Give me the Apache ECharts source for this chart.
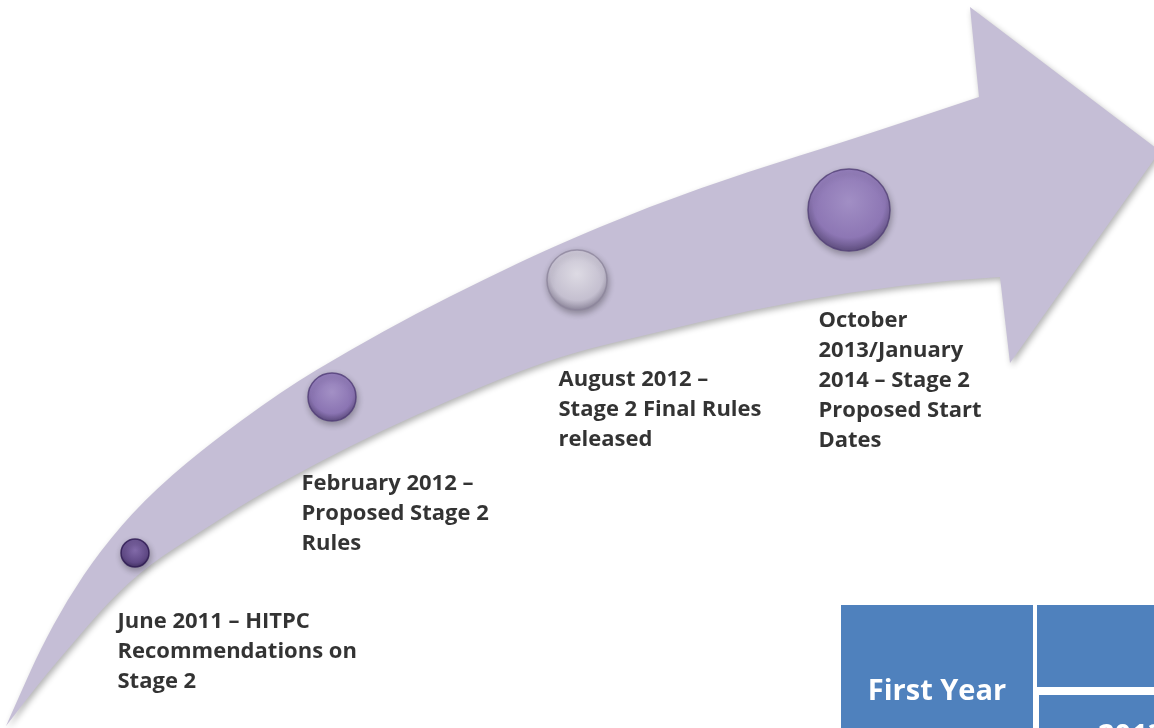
<!DOCTYPE html>
<html>
<head>
<meta charset="utf-8">
<script src="https://cdn.jsdelivr.net/npm/echarts@6/dist/echarts.min.js"></script>
<style>
  html, body { margin: 0; padding: 0; background: #fff; }
  #chart-container { width: 1154px; height: 728px; }
</style>
</head>
<body>
<div id="chart-container"></div>
<script>
// milestones along the arrow
const milestones = [
  'June 2011 – HITPC\nRecommendations on\nStage 2',
  'February 2012 –\nProposed Stage 2\nRules',
  'August 2012 –\nStage 2 Final Rules\nreleased',
  'October\n2013/January\n2014 – Stage 2\nProposed Start\nDates',
];
const markerX = [135, 332, 577, 849];
const markerY = [553, 397, 280, 210];
const markerSize = [28, 48, 60, 82];

// where each caption starts (top-left)
const labelX = [118, 302, 559, 819];
const labelY = [607, 469, 365, 306];

// arrow outline
const arrowUpper = [
  [6, 726], [22, 690], [40, 650], [67, 600], [100, 551], [143, 501], [200, 451],
  [283, 390], [350, 350], [417, 313], [483, 280], [550, 248], [650, 206],
  [750, 171], [850, 140], [979, 97],
];
const arrowHead = [[970, 7], [1160, 151], [1010, 363]];
const arrowLower = [
  [1000, 277], [950, 280], [850, 292], [750, 310], [650, 334], [575, 352],
  [517, 372], [450, 400], [383, 430], [317, 463], [250, 500], [200, 532],
  [150, 564], [110, 600], [67, 650], [40, 682], [6, 726],
];

const sphereColors = [
  ['#7f63ad', '#553a82', '#2c1850'],
  ['#a892d0', '#8a6fb9', '#4f3b75'],
  ['#f1eff6', '#d2cddd', '#8d869c'],
  ['#a690cf', '#8d72bb', '#513e76'],
];

const sphereStyle = (i) => {
  const c = sphereColors[i];
  return {
    color: {
      type: 'radial', x: 0.5, y: 0.4, r: 0.6,
      colorStops: [
        { offset: 0, color: c[0] },
        { offset: 0.72, color: c[1] },
        { offset: 1, color: c[2] },
      ],
    },
    borderColor: c[2],
    borderWidth: 1.5,
    shadowBlur: 6,
    shadowColor: 'rgba(0,0,0,0.35)',
    shadowOffsetX: 1,
    shadowOffsetY: 3,
  };
};

// quadratic smoothing through midpoints of a point list
const smoothSeg = (pts) => {
  let d = '';
  for (let i = 1; i < pts.length - 1; i++) {
    const mx = (pts[i][0] + pts[i + 1][0]) / 2;
    const my = (pts[i][1] + pts[i + 1][1]) / 2;
    d += ' Q' + pts[i][0] + ' ' + pts[i][1] + ' ' + mx + ' ' + my;
  }
  const last = pts[pts.length - 1];
  return d + ' L' + last[0] + ' ' + last[1];
};

const chart = echarts.init(document.getElementById('chart-container'), null, {
  renderer: 'canvas',
});

const font = '"Open Sans", Lato, sans-serif';

chart.setOption({
  animation: false,
  backgroundColor: '#fff',
  grid: { left: 0, right: 0, top: 0, bottom: 0 },
  xAxis: { type: 'value', min: 0, max: 1154, show: false },
  yAxis: { type: 'value', min: 0, max: 728, inverse: true, show: false },
  series: [
    {
      type: 'custom',
      silent: true,
      data: [[0, 0]],
      z: 1,
      renderItem: (params, api) => {
        const up = arrowUpper.map((p) => api.coord(p));
        const head = arrowHead.map((p) => api.coord(p));
        const low = arrowLower.map((p) => api.coord(p));
        let d = 'M' + up[0][0] + ' ' + up[0][1] + smoothSeg(up);
        head.forEach((p) => { d += ' L' + p[0] + ' ' + p[1]; });
        d += ' L' + low[0][0] + ' ' + low[0][1] + smoothSeg(low) + ' Z';
        return {
          type: 'path',
          shape: { pathData: d },
          style: {
            fill: '#c5bed6',
            shadowBlur: 6,
            shadowColor: 'rgba(0,0,0,0.3)',
            shadowOffsetX: 2,
            shadowOffsetY: 3,
          },
        };
      },
    },
    {
      type: 'scatter',
      silent: true,
      z: 3,
      symbol: 'circle',
      data: markerX.map((x, i) => ({
        value: [x, markerY[i]],
        symbolSize: markerSize[i],
        itemStyle: sphereStyle(i),
      })),
    },
    {
      type: 'scatter',
      silent: true,
      z: 4,
      symbolSize: 1,
      itemStyle: { color: 'rgba(0,0,0,0)' },
      data: labelX.map((x, i) => ({ value: [x, labelY[i]], name: milestones[i] })),
      label: {
        show: true,
        position: [0, 0],
        align: 'left',
        verticalAlign: 'top',
        formatter: (p) => p.name,
        fontFamily: font,
        fontWeight: 'bold',
        fontSize: 22,
        lineHeight: 30,
        color: '#000',
      },
    },
  ],
  graphic: [
    { type: 'rect', shape: { x: 841, y: 605, width: 192, height: 123 }, style: { fill: '#4f81bd' } },
    { type: 'rect', shape: { x: 1037, y: 605, width: 117, height: 82 }, style: { fill: '#4f81bd' } },
    { type: 'rect', shape: { x: 1039, y: 695, width: 115, height: 33 }, style: { fill: '#4f81bd' } },
    {
      type: 'text', x: 937, y: 692,
      style: { text: 'First Year', fill: '#fff', font: 'bold 29px ' + font, textAlign: 'center', textVerticalAlign: 'middle' },
    },
    {
      type: 'text', x: 1098, y: 737,
      style: { text: '2013', fill: '#fff', font: 'bold 29px ' + font, textAlign: 'left', textVerticalAlign: 'middle' },
    },
  ],
});

window.addEventListener('resize', chart.resize);
</script>
</body>
</html>
